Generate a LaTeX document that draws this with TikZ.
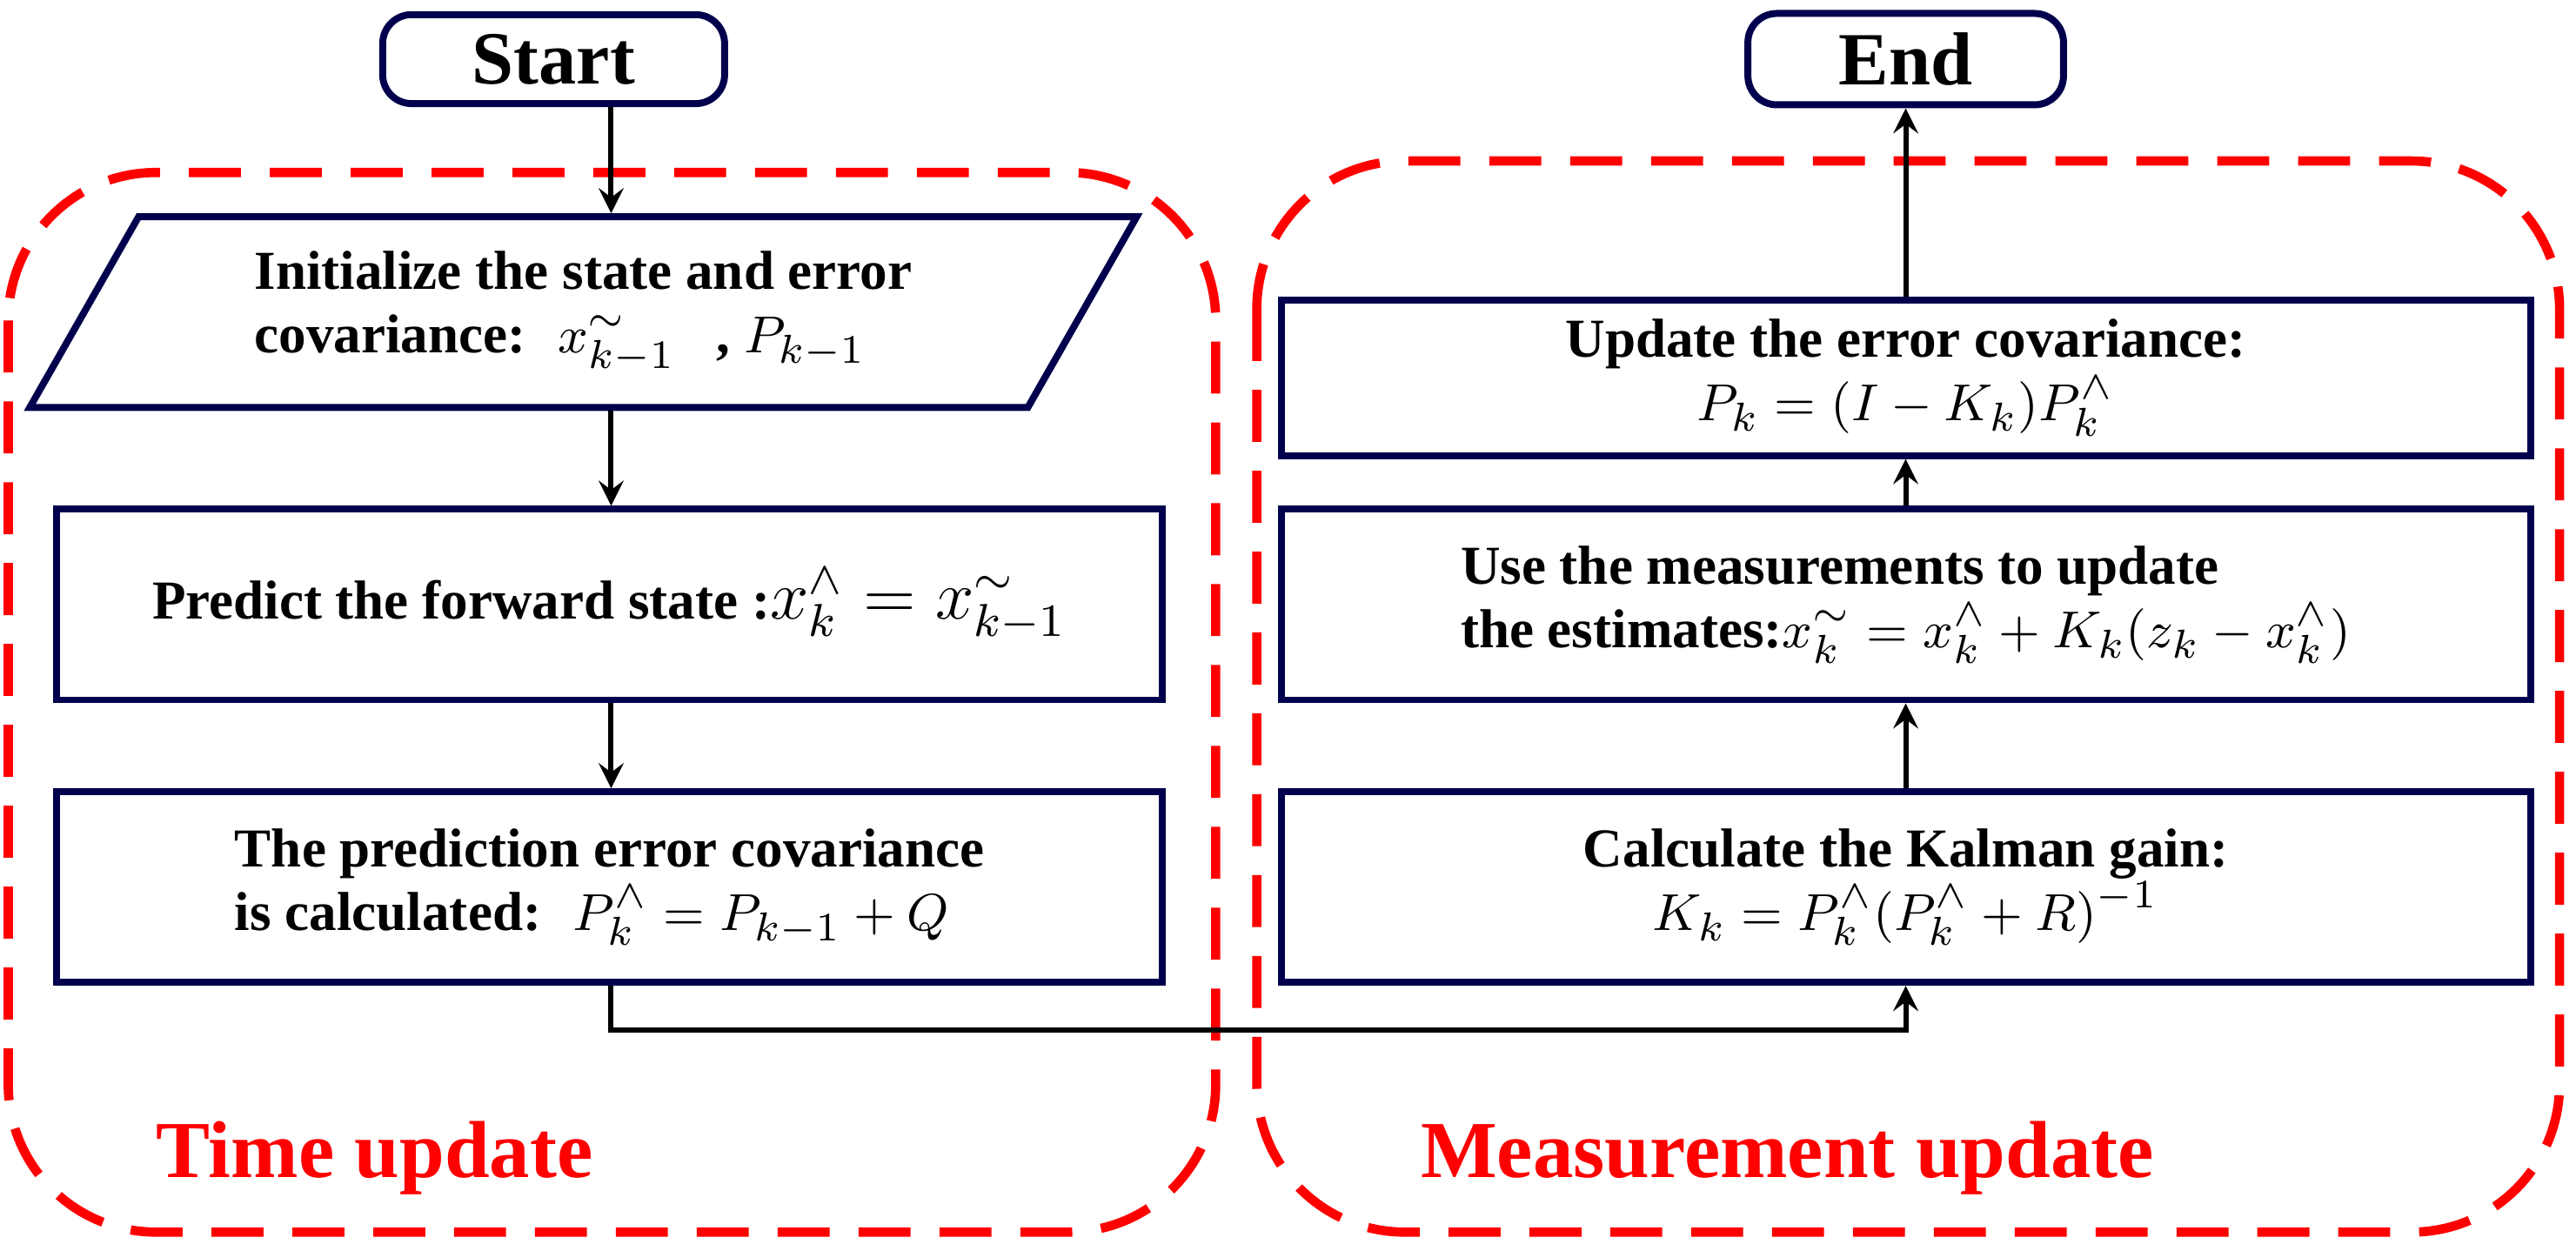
\documentclass[tikz,border=0pt]{standalone}
\usepackage{fontspec}
\setmainfont{Liberation Serif}
\usetikzlibrary{shapes.geometric}
\usetikzlibrary{positioning}
\tikzset{stepBox/.style={draw=black!70!blue, line width=1.2pt, minimum width=6.73cm, minimum height=1.16cm, font=\bfseries\fontsize{9.5}{11}\selectfont, align=center}}
\tikzset{termBox/.style={draw=black!70!blue, line width=1.2pt, rounded corners=5pt, minimum height=0.52cm, font=\bfseries\fontsize{13}{15}\selectfont}}
\tikzset{region/.style={draw=red, line width=1.6pt, dash pattern=on 9pt off 5pt, rounded corners=0.9cm}}
\tikzset{regionLabel/.style={text=red, font=\bfseries\fontsize{14}{16}\selectfont}}
\tikzset{flow/.style={->, >=stealth, line width=0.9pt}}
\begin{document}
\begin{tikzpicture}[x=0.01cm,y=-0.01cm]
\useasboundingbox (0,0) rectangle (1568,761);

% regions
\draw[region] (5,105) rectangle (740,750);
\draw[region] (765,98) rectangle (1558,750);
\node[regionLabel] (timeLbl) at (228,705) {Time update};
\node[regionLabel] (measLbl) at (1088,705) {Measurement update};

% terminals
\node[termBox, minimum width=2.08cm] (start) at (337,36) {Start};
\node[termBox, minimum width=1.92cm] (finish) at (1160,36) {End};

% time update column
\node[trapezium, trapezium left angle=62, trapezium right angle=118, trapezium stretches=true, draw=black!70!blue, line width=1.2pt, minimum width=6.75cm, minimum height=1.16cm, font=\bfseries\fontsize{9.5}{11}\selectfont, align=left] (init) at (355,190)
  {Initialize the state and error\\ covariance: \ $x_{k-1}^{\sim}$ \ \ , $P_{k-1}$};
\node[stepBox] (predict) at (371,368) {Predict the forward state :\large$x_k^{\wedge}=x_{k-1}^{\sim}$};
\node[stepBox, align=left] (predCov) at (371,540) {The prediction error covariance\\ is calculated: \ $P_k^{\wedge}=P_{k-1}+Q$};

% measurement update column
\node[stepBox, minimum width=7.6cm] (gain) at (1160,540) {Calculate the Kalman gain:\\ $K_k=P_k^{\wedge}(P_k^{\wedge}+R)^{-1}$};
\node[stepBox, minimum width=7.6cm, align=left] (estim) at (1160,368) {Use the measurements to update\\ the estimates:$x_k^{\sim}=x_k^{\wedge}+K_k(z_k-x_k^{\wedge})$};
\node[stepBox, minimum width=7.6cm, minimum height=0.92cm] (errCov) at (1160,230) {Update the error covariance:\\ $P_k=(I-K_k)P_k^{\wedge}$};

% connectors
\draw[flow] (start.south -| 372,0) -- (init.north -| 372,0);
\draw[flow] (init.south -| 372,0) -- (predict.north -| 372,0);
\draw[flow] (predict.south -| 372,0) -- (predCov.north -| 372,0);
\draw[flow] (predCov.south -| 372,0) -- (372,627) -- (1160,627) -- (gain.south);
\draw[flow] (gain) -- (estim);
\draw[flow] (estim) -- (errCov);
\draw[flow] (errCov) -- (finish);
\end{tikzpicture}
\end{document}
